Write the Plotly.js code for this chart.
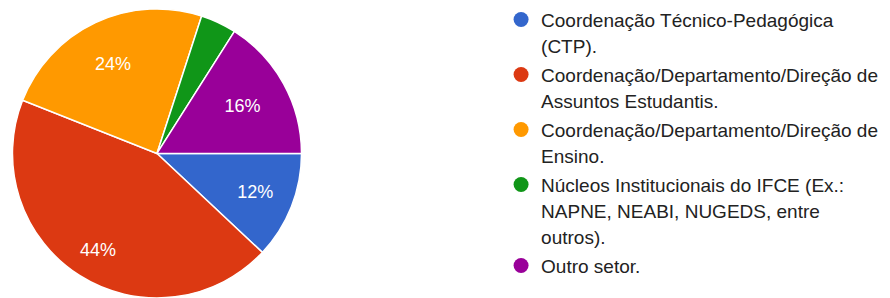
<!DOCTYPE html>
<html>
<head>
<meta charset="utf-8">
<script src="https://cdn.plot.ly/plotly-3.0.1.min.js"></script>
<style>html,body{margin:0;padding:0;background:#fff;}#chart{width:890px;height:298px;}</style>
</head>
<body>
<div id="chart"></div>
<script>
const categories = [
  "Coordenação Técnico-Pedagógica<br>(CTP).",
  "Coordenação/Departamento/Direção de<br>Assuntos Estudantis.",
  "Coordenação/Departamento/Direção de<br>Ensino.",
  "Núcleos Institucionais do IFCE (Ex.:<br>NAPNE, NEABI, NUGEDS, entre<br>outros).",
  "Outro setor."
];
const values = [12, 44, 24, 4, 16];
const colors = ["#3366cc", "#dc3912", "#ff9900", "#109618", "#990099"];

const FONT = "Arial, 'Liberation Sans', sans-serif";
const NB = "&nbsp;";
// slice label templates (padding with non-breaking spaces nudges placement inside the slice)
const sliceLabels = [
  "%{percent}",
  NB + "<br>" + NB + "<br>" + NB + "<br>%{percent}" + NB.repeat(8),
  "%{percent}" + NB.repeat(3) + "<br>" + NB,
  "",
  "%{percent}"
];

const traces = [{
  type: "pie",
  labels: categories,
  values: values,
  sort: false,
  direction: "clockwise",
  rotation: 90,
  marker: {colors: colors, line: {color: "#ffffff", width: 1.5}},
  texttemplate: sliceLabels,
  textposition: "inside",
  insidetextorientation: "horizontal",
  textfont: {family: FONT, size: 18, color: "#ffffff"},
  domain: {x: [0.0135, 0.3393], y: [0, 0.97]},
  showlegend: false,
  hoverinfo: "label+percent"
}];

categories.forEach((c, i) => {
  traces.push({
    type: "scatter",
    mode: "markers",
    x: [null], y: [null],
    name: "<span style=\"font-size:19px\">" + c + "</span>",
    legendgroup: "g" + i,
    marker: {color: colors[i], size: 15, symbol: "circle"},
    showlegend: true,
    hoverinfo: "skip"
  });
});

const layout = {
  width: 890, height: 298,
  margin: {l: 0, r: 0, t: 0, b: 0},
  paper_bgcolor: "#ffffff",
  plot_bgcolor: "#ffffff",
  xaxis: {visible: false, domain: [0.99, 1]},
  yaxis: {visible: false, domain: [0.99, 1]},
  showlegend: true,
  legend: {
    x: 0.563, y: 1.0, xanchor: "left", yanchor: "top",
    valign: "top",
    font: {family: FONT, size: 20, color: "#222222"},
    itemclick: false, itemdoubleclick: false,
    tracegroupgap: 0,
    bgcolor: "rgba(0,0,0,0)"
  }
};

Plotly.newPlot("chart", traces, layout, {displayModeBar: false, staticPlot: true});
</script>
</body>
</html>
